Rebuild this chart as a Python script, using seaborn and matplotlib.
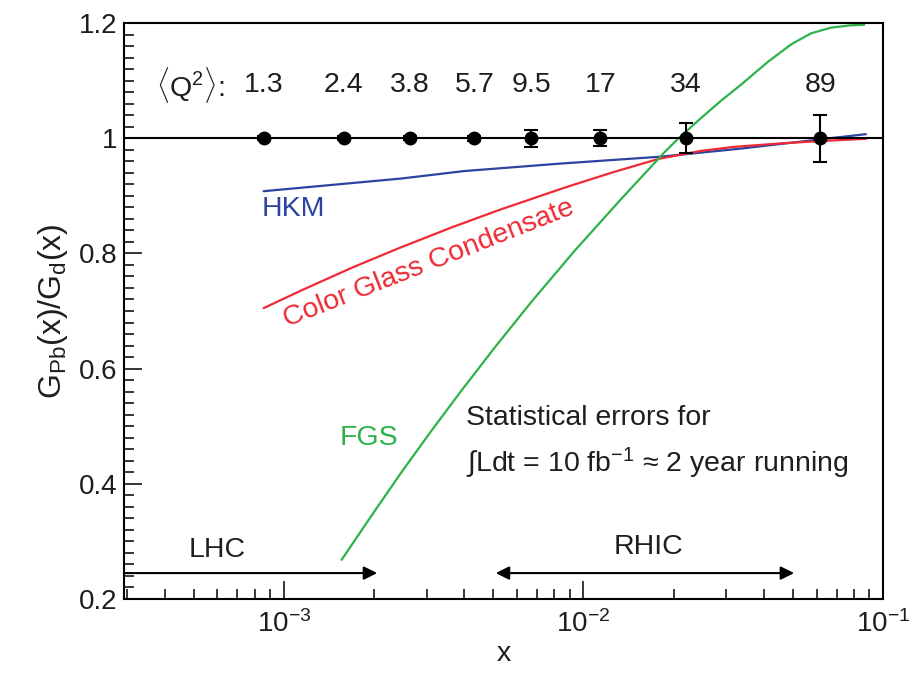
import numpy as np
import pandas as pd
import matplotlib
matplotlib.use("Agg")
import matplotlib.pyplot as plt
import seaborn as sns
from matplotlib.ticker import FixedLocator, FixedFormatter, LogLocator, MultipleLocator, NullFormatter

# ---------------- data ----------------
point_x = [8.57e-4, 1.585e-3, 2.63e-3, 4.33e-3, 6.71e-3, 1.14e-2, 2.2e-2, 6.17e-2]
point_ratio = [1.0, 1.0, 1.0, 1.0, 1.0, 1.0, 1.0, 1.0]
point_err = [0.003, 0.003, 0.003, 0.004, 0.015, 0.014, 0.026, 0.041]
q2_labels = ["1.3", "2.4", "3.8", "5.7", "9.5", "17", "34", "89"]

hkm_x = [8.57e-4, 2.47e-3, 4.01e-3, 8.42e-3, 1.82e-2, 3.36e-2, 6.17e-2, 8.77e-2]
hkm_y = [0.908, 0.930, 0.943, 0.956, 0.968, 0.982, 0.998, 1.007]

cgc_x = [8.57e-4, 1.148e-3, 1.686e-3, 2.42e-3, 3.63e-3, 5.21e-3, 8.64e-3, 1.24e-2,
         1.78e-2, 2.47e-2, 3.19e-2, 4.57e-2, 6.17e-2, 8.77e-2]
cgc_y = [0.705, 0.736, 0.775, 0.809, 0.845, 0.875, 0.914, 0.940,
         0.964, 0.978, 0.985, 0.991, 0.995, 0.999]

fgs_x = [1.56e-3, 1.965e-3, 2.47e-3, 3.11e-3, 3.92e-3, 5.05e-3, 6.71e-3, 9.33e-3,
         1.34e-2, 1.86e-2, 2.06e-2, 2.47e-2, 2.88e-2, 3.36e-2, 4.14e-2, 4.94e-2,
         5.75e-2, 6.71e-2, 7.82e-2, 8.65e-2]
fgs_y = [0.268, 0.345, 0.420, 0.492, 0.562, 0.636, 0.716, 0.804,
         0.895, 0.975, 0.998, 1.035, 1.065, 1.093, 1.133, 1.163,
         1.182, 1.192, 1.196, 1.197]

ytick_vals = [0.2, 0.4, 0.6, 0.8, 1.0, 1.2]
ytick_labels = ["0.2", "0.4", "0.6", "0.8", "1", "1.2"]

lhc_range = [2.93e-4, 2.05e-3]
rhic_range = [5.1e-3, 5.05e-2]
arrow_level = 0.245

# ---------------- style ----------------
sns.set_theme(style="ticks")
plt.rcParams["font.family"] = ["Liberation Sans", "DejaVu Sans"]
plt.rcParams["mathtext.fontset"] = "custom"
plt.rcParams["mathtext.rm"] = "Liberation Sans"
plt.rcParams["mathtext.it"] = "Liberation Sans:italic"
plt.rcParams["mathtext.bf"] = "Liberation Sans:bold"
plt.rcParams["axes.unicode_minus"] = False

FS = 20.5
TFS = 20
TXT = "#1e1e1e"
BLUE = "#2a44a0"
RED = "#ee2a35"
GREEN = "#2db34a"

fig = plt.figure(figsize=(9.1, 6.75), dpi=100)
ax = fig.add_axes([124 / 910, 1 - 599 / 675, (883 - 124) / 910, (599 - 23) / 675])

curves = pd.concat([
    pd.DataFrame({"x": hkm_x, "y": hkm_y, "model": "HKM"}),
    pd.DataFrame({"x": cgc_x, "y": cgc_y, "model": "CGC"}),
    pd.DataFrame({"x": fgs_x, "y": fgs_y, "model": "FGS"}),
])
sns.lineplot(data=curves, x="x", y="y", hue="model",
             palette={"HKM": BLUE, "CGC": RED, "FGS": GREEN},
             linewidth=1.6, legend=False, ax=ax, sort=False, estimator=None)

ax.axhline(1.0, color="black", lw=1.5, zorder=3)

pts = pd.DataFrame({"x": point_x, "y": point_ratio, "err": point_err})
ax.errorbar(pts["x"], pts["y"], yerr=pts["err"], fmt="none", ecolor="black",
            elinewidth=1.5, capsize=4.8, capthick=1.5, zorder=4)
sns.scatterplot(data=pts, x="x", y="y", color="black", s=100, edgecolor="black",
                linewidth=0, ax=ax, zorder=5)

# Q^2 labels
ax.text(3.75e-4, 1.092, r"$\langle\mathrm{Q}^{2}\rangle$:", fontsize=FS, color=TXT,
        ha="left", va="center")
for xv, lab in zip(point_x, q2_labels):
    ax.text(xv, 1.092, lab, fontsize=FS, color=TXT, ha="center", va="center")

# model labels
ax.text(1.08e-3, 0.877, "HKM", fontsize=FS, color=BLUE, ha="center", va="center")
ax.text(1.92e-3, 0.48, "FGS", fontsize=FS, color=GREEN, ha="center", va="center")
ax.text(3.04e-3, 0.783, "Color Glass Condensate", fontsize=FS, color=RED,
        ha="center", va="center", rotation=21.5, rotation_mode="anchor")

ax.text(4.07e-3, 0.514, "Statistical errors for", fontsize=FS, color=TXT,
        ha="left", va="center")
ax.text(4.07e-3, 0.436, r"$\int$Ldt = 10 fb$^{-1}$ ≈ 2 year running", fontsize=FS,
        color=TXT, ha="left", va="center")

# LHC / RHIC arrows
ax.annotate("", xy=(lhc_range[1], arrow_level), xytext=(lhc_range[0], arrow_level),
            arrowprops=dict(arrowstyle="-|>", lw=1.5, color="black",
                            mutation_scale=20, shrinkA=0, shrinkB=0))
ax.annotate("", xy=(rhic_range[1], arrow_level), xytext=(rhic_range[0], arrow_level),
            arrowprops=dict(arrowstyle="<|-|>", lw=1.5, color="black",
                            mutation_scale=20, shrinkA=0, shrinkB=0))
ax.text(5.98e-4, 0.285, "LHC", fontsize=FS, color=TXT, ha="center", va="center")
ax.text(1.65e-2, 0.29, "RHIC", fontsize=FS, color=TXT, ha="center", va="center")

# axes
ax.set_xscale("log")
ax.set_xlim(2.93e-4, 1e-1)
ax.set_ylim(0.2, 1.2)
ax.yaxis.set_major_locator(FixedLocator(ytick_vals))
ax.yaxis.set_major_formatter(FixedFormatter(ytick_labels))
ax.yaxis.set_minor_locator(MultipleLocator(0.02))
ax.xaxis.set_major_locator(LogLocator(base=10))
ax.xaxis.set_minor_locator(LogLocator(base=10, subs=np.arange(2, 10)))
ax.xaxis.set_minor_formatter(NullFormatter())

ax.tick_params(which="both", direction="in", top=False, right=False,
               colors="black", labelcolor=TXT, labelsize=TFS, width=1.1)
ax.tick_params(which="major", length=13)
ax.tick_params(which="minor", length=7)
ax.tick_params(axis="y", which="major", pad=5)
ax.tick_params(axis="x", which="major", pad=8)
for sp in ax.spines.values():
    sp.set_linewidth(1.5)
    sp.set_color("black")

ax.set_xlabel("x", fontsize=FS, color=TXT, labelpad=2)
ax.set_ylabel(r"G$_{\mathrm{Pb}}$(x)/G$_{\mathrm{d}}$(x)", fontsize=23, color=TXT, labelpad=6)

fig.savefig("out.png", dpi=100)
